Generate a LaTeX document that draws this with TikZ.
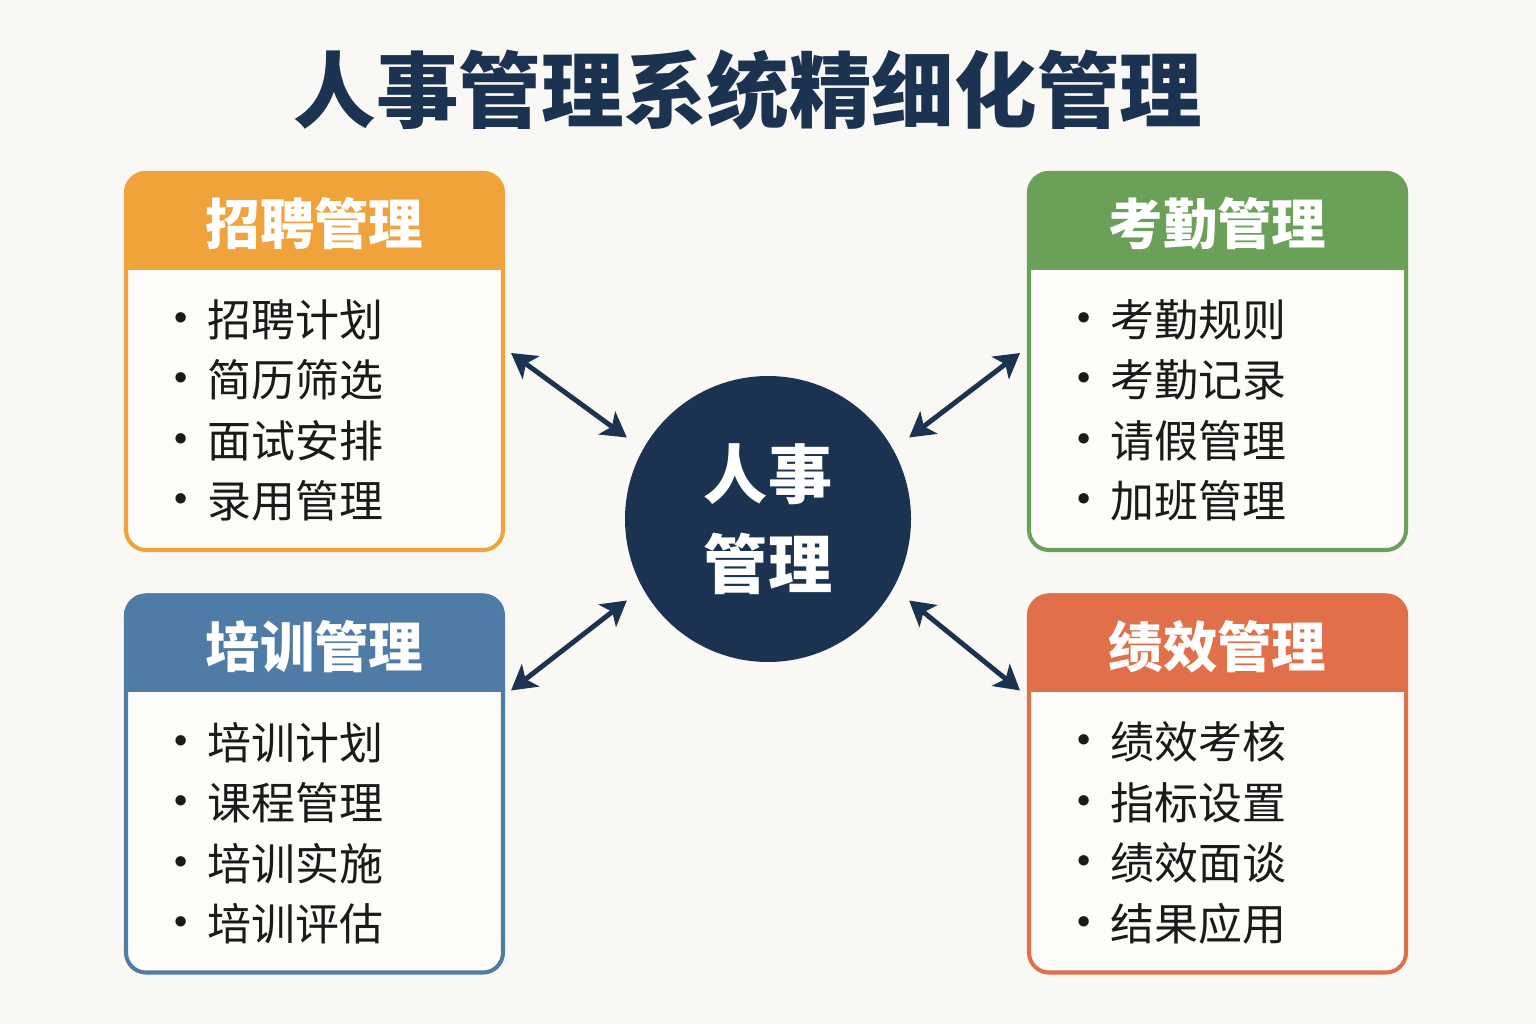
\documentclass[tikz,border=0pt]{standalone}
\usepackage{fontspec}
\setmainfont{Noto Sans CJK SC}
\usetikzlibrary{positioning,arrows.meta,calc}
\definecolor{navy}{HTML}{1B3350}
\definecolor{bgcol}{HTML}{F9F8F4}
\definecolor{boxfill}{HTML}{FDFCF9}
\definecolor{ink}{HTML}{1A1A1A}
\definecolor{recruitcol}{HTML}{F0A33A}
\definecolor{traincol}{HTML}{4F7CA7}
\definecolor{attendcol}{HTML}{6BA058}
\definecolor{perfcol}{HTML}{E1704A}
\newcommand\lstbul{\makebox[0.52cm][l]{\makebox[0pt][c]{\fontsize{28}{28}\selectfont •}}}
\tikzset{
	box/.style={rectangle,rounded corners=0.4cm,draw,line width=2.3pt,fill=boxfill,minimum width=7.54cm,minimum height=7.54cm},
	headtext/.style={text=white,font=\fontsize{31}{31}\selectfont\bfseries},
	itemlist/.style={anchor=west,align=left,inner sep=0,text=ink,font=\fontsize{25}{34.4}\selectfont},
	hub/.style={circle,fill=navy,minimum size=5.72cm,outer sep=0.4cm,text=white,align=center,font=\fontsize{36.5}{51}\selectfont\bfseries},
	title/.style={text=navy,font=\fontsize{47}{47}\selectfont\bfseries},
	biarrow/.style={<->,>={Stealth[width=16pt,length=14pt,inset=3.5pt]},color=navy,line width=2.8pt}
}

\begin{document}
\begin{tikzpicture}
	
	\fill[bgcol] (0,0) rectangle (30.72,20.48);
	\useasboundingbox (0,0) rectangle (30.72,20.48);
	
	\node [title] (heading) at (14.96, 18.68) {人事管理系统精细化管理};
	\node [hub] (hr) at (15.36, 10.10) {人事\\管理};
	
	% recruiting
	\node [box,draw=recruitcol] (recruit) at (6.29, 13.25) {};
	\begin{scope}
		\clip[rounded corners=0.44cm] (recruit.north west) rectangle (recruit.south east);
		\fill[recruitcol] (recruit.north west) rectangle ([yshift=-1.98cm]recruit.north east);
	\end{scope}
	\node [headtext] (recruithead) at ([yshift=-1.06cm]recruit.north) {招聘管理};
	\node [itemlist] (recruitlist) at ([xshift=1.14cm,yshift=-0.98cm]recruit.west)
		{\lstbul 招聘计划\\ \lstbul 简历筛选\\ \lstbul 面试安排\\ \lstbul 录用管理};
	
	% training
	\node [box,draw=traincol] (training) at (6.29, 4.80) {};
	\begin{scope}
		\clip[rounded corners=0.44cm] (training.north west) rectangle (training.south east);
		\fill[traincol] (training.north west) rectangle ([yshift=-1.98cm]training.north east);
	\end{scope}
	\node [headtext] (traininghead) at ([yshift=-1.06cm]training.north) {培训管理};
	\node [itemlist] (traininglist) at ([xshift=1.14cm,yshift=-0.98cm]training.west)
		{\lstbul 培训计划\\ \lstbul 课程管理\\ \lstbul 培训实施\\ \lstbul 培训评估};
	
	% attendance
	\node [box,draw=attendcol] (attend) at (24.35, 13.25) {};
	\begin{scope}
		\clip[rounded corners=0.44cm] (attend.north west) rectangle (attend.south east);
		\fill[attendcol] (attend.north west) rectangle ([yshift=-1.98cm]attend.north east);
	\end{scope}
	\node [headtext] (attendhead) at ([yshift=-1.06cm]attend.north) {考勤管理};
	\node [itemlist] (attendlist) at ([xshift=1.14cm,yshift=-0.98cm]attend.west)
		{\lstbul 考勤规则\\ \lstbul 考勤记录\\ \lstbul 请假管理\\ \lstbul 加班管理};
	
	% performance
	\node [box,draw=perfcol] (perf) at (24.35, 4.80) {};
	\begin{scope}
		\clip[rounded corners=0.44cm] (perf.north west) rectangle (perf.south east);
		\fill[perfcol] (perf.north west) rectangle ([yshift=-1.98cm]perf.north east);
	\end{scope}
	\node [headtext] (perfhead) at ([yshift=-1.06cm]perf.north) {绩效管理};
	\node [itemlist] (perflist) at ([xshift=1.14cm,yshift=-0.98cm]perf.west)
		{\lstbul 绩效考核\\ \lstbul 指标设置\\ \lstbul 绩效面谈\\ \lstbul 结果应用};
	
	\draw [biarrow] ([shift={(0.12,0.17)}]recruit.east) -- (hr.150);
	\draw [biarrow] ([shift={(-0.14,0.17)}]attend.west) -- (hr.30);
	\draw [biarrow] ([shift={(0.12,-1.94)}]training.north east) -- (hr.210);
	\draw [biarrow] ([shift={(-0.14,-1.94)}]perf.north west) -- (hr.330);
	
\end{tikzpicture}
\end{document}
